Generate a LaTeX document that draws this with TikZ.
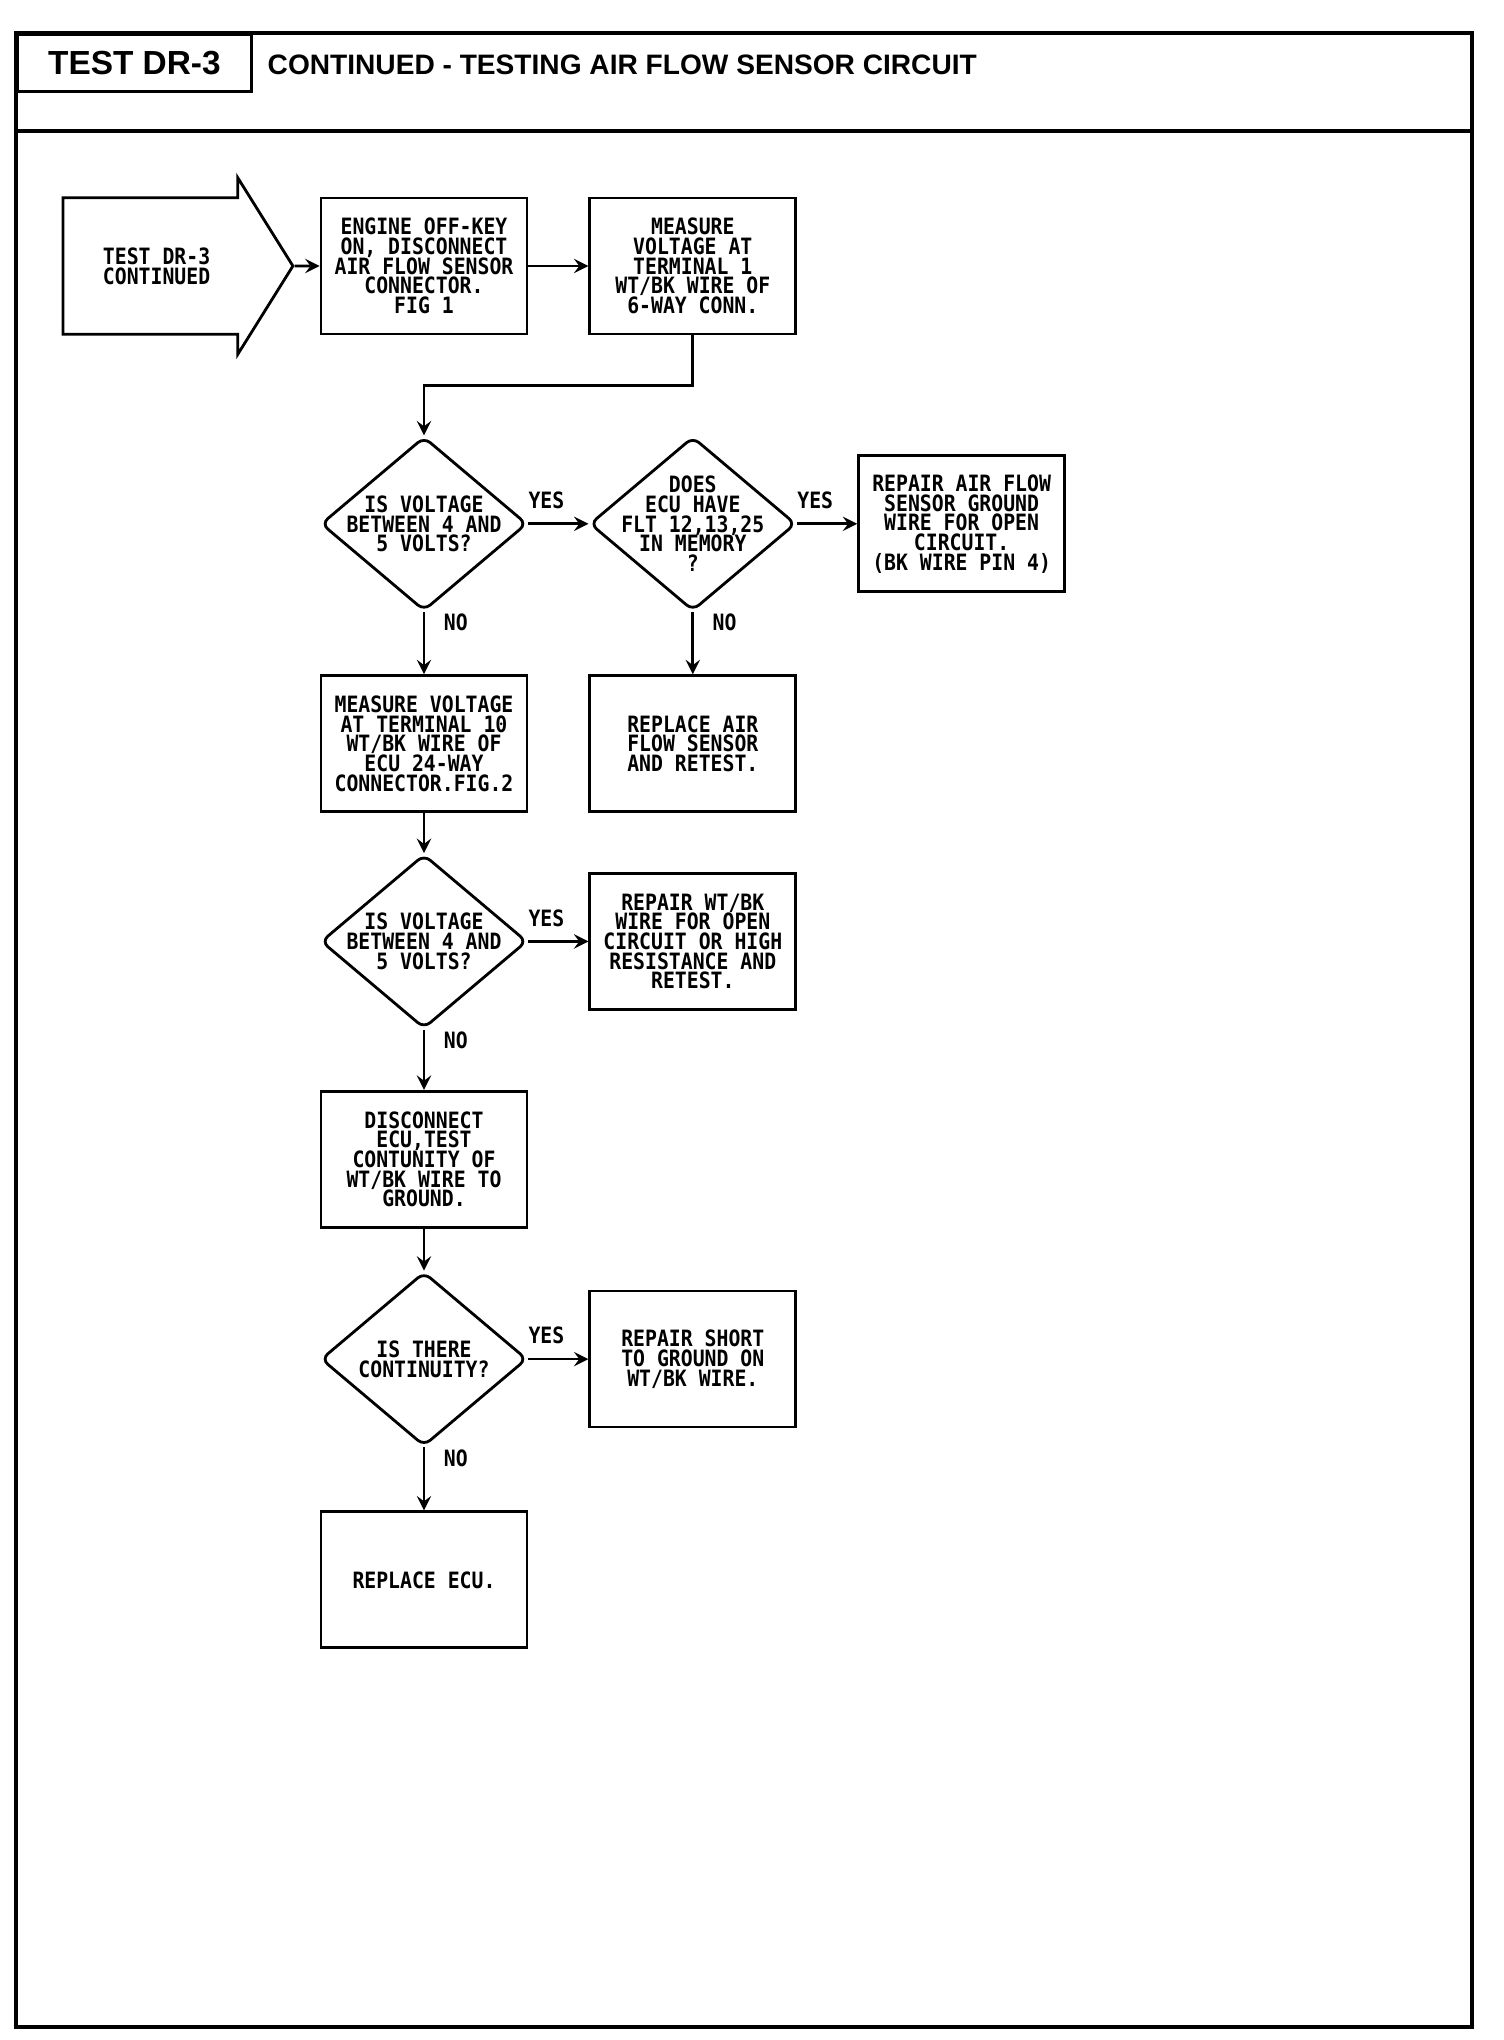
\documentclass[tikz,border=0pt]{standalone}
\usepackage{fontspec}
\usepackage{tikz}
\usetikzlibrary{positioning,shapes.geometric,shapes.arrows}
\newfontfamily\plotfont[FakeStretch=0.88]{DejaVu Sans Mono}
\newfontfamily\headfont{Liberation Sans}
\newcommand{\plotsize}{\plotfont\bfseries\fontsize{6.4pt}{5.6pt}\selectfont\lineskiplimit=-10pt\relax}

\begin{document}
\begin{tikzpicture}[
  node distance=0.62cm and 0.6cm,
  box/.style={rectangle, draw, thick, align=center, minimum width=2.06cm, minimum height=1.36cm, inner sep=1pt, font=\plotsize},
  decision/.style={diamond, draw, thick, rounded corners=0.08cm, minimum width=2.06cm, minimum height=1.74cm, inner sep=0pt},
  dtext/.style={align=center, inner sep=0pt, font=\plotsize},
  startarrow/.style={single arrow, draw, thick, single arrow head extend=0.2cm, single arrow tip angle=116, minimum height=2.3cm, inner xsep=2pt, inner ysep=0.485cm, align=center, font=\plotsize},
  arrow/.style={->, >=stealth, thick},
  lbl/.style={inner sep=1pt, font=\plotsize},
  titlebox/.style={draw, thick, minimum width=2.34cm, minimum height=0.57cm, font=\headfont\bfseries\fontsize{9.5pt}{11pt}\selectfont}
]
  \useasboundingbox (0,0) rectangle (15.04,-20.40);
  % page frame and heading
  \draw[very thick] (0.16,-0.33) rectangle (14.72,-20.27);
  \draw[very thick] (0.16,-1.31) -- (14.72,-1.31);
  \node[titlebox, anchor=north west] (testid) at (0.16,-0.33) {TEST DR-3};
  \node[anchor=west, inner sep=0pt, font=\headfont\bfseries\fontsize{8pt}{10pt}\selectfont] (heading) at (2.67,-0.65) {CONTINUED - TESTING AIR FLOW SENSOR CIRCUIT};

  % first row
  \node[box] (engine) at (4.24,-2.66) {ENGINE OFF-KEY\\ON, DISCONNECT\\AIR FLOW SENSOR\\CONNECTOR.\\FIG 1};
  \node[startarrow, left=0.25cm of engine] (start) {TEST DR-3\\CONTINUED};
  \node[box, right=of engine] (meas1) {MEASURE\\VOLTAGE AT\\TERMINAL 1\\WT/BK WIRE OF\\6-WAY CONN.};

  % checks
  \node[decision, below=1.0cm of engine, label={[dtext]center:{IS VOLTAGE\\BETWEEN 4 AND\\5 VOLTS?}}] (chk1) {};
  \node[decision, right=of chk1, label={[dtext]center:{DOES\\ECU HAVE\\FLT 12,13,25\\IN MEMORY\\?}}] (chk2) {};
  \node[box, right=of chk2] (repair1) {REPAIR AIR FLOW\\SENSOR GROUND\\WIRE FOR OPEN\\CIRCUIT.\\(BK WIRE PIN 4)};
  \node[box, below=of chk1] (meas2) {MEASURE VOLTAGE\\AT TERMINAL 10\\WT/BK WIRE OF\\ECU 24-WAY\\CONNECTOR.FIG.2};
  \node[box, below=of chk2] (replace1) {REPLACE AIR\\FLOW SENSOR\\AND RETEST.};
  \node[decision, below=0.4cm of meas2, label={[dtext]center:{IS VOLTAGE\\BETWEEN 4 AND\\5 VOLTS?}}] (chk3) {};
  \node[box, right=of chk3] (repair2) {REPAIR WT/BK\\WIRE FOR OPEN\\CIRCUIT OR HIGH\\RESISTANCE AND\\RETEST.};
  \node[box, below=0.6cm of chk3] (discon) {DISCONNECT\\ECU,TEST\\CONTUNITY OF\\WT/BK WIRE TO\\GROUND.};
  \node[decision, below=0.42cm of discon, label={[dtext]center:{IS THERE\\CONTINUITY?}}] (chk4) {};
  \node[box, right=of chk4] (repair3) {REPAIR SHORT\\TO GROUND ON\\WT/BK WIRE.};
  \node[box, below=0.63cm of chk4] (replace2) {REPLACE ECU.};

  \draw[arrow] (start) -- (engine);
  \draw[arrow] (engine) -- (meas1);
  \draw[arrow] (meas1.south) -- ++(0,-0.5) -| (chk1.north);
  \draw[arrow] (chk1) -- node[lbl, above=0.1cm, pos=0.3] (yes1) {YES} (chk2);
  \draw[arrow] (chk2) -- node[lbl, above=0.1cm, pos=0.3] (yes2) {YES} (repair1);
  \draw[arrow] (chk1) -- node[lbl, right=0.15cm, pos=0.17] (no1) {NO} (meas2);
  \draw[arrow] (chk2) -- node[lbl, right=0.15cm, pos=0.17] (no2) {NO} (replace1);
  \draw[arrow] (meas2) -- (chk3);
  \draw[arrow] (chk3) -- node[lbl, above=0.1cm, pos=0.3] (yes3) {YES} (repair2);
  \draw[arrow] (chk3) -- node[lbl, right=0.15cm, pos=0.17] (no3) {NO} (discon);
  \draw[arrow] (discon) -- (chk4);
  \draw[arrow] (chk4) -- node[lbl, above=0.1cm, pos=0.3] (yes4) {YES} (repair3);
  \draw[arrow] (chk4) -- node[lbl, right=0.15cm, pos=0.17] (no4) {NO} (replace2);
\end{tikzpicture}
\end{document}
